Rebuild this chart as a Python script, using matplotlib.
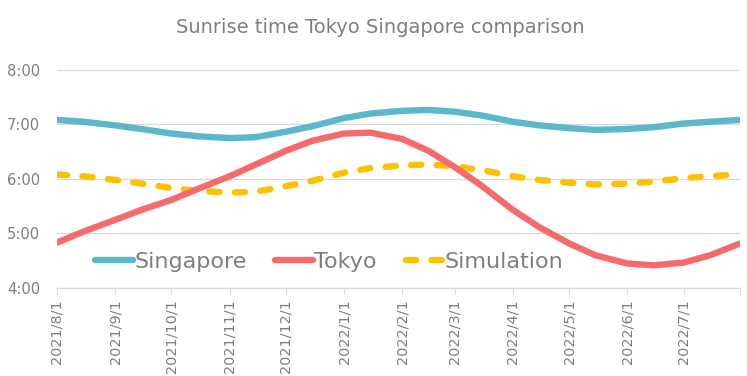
#!/usr/bin/env python3
"""Sunrise time Tokyo / Singapore comparison chart."""
import datetime as dt

import matplotlib
matplotlib.use("Agg")
import matplotlib.pyplot as plt
import matplotlib.dates as mdates
from matplotlib.ticker import FuncFormatter

plt.rcParams["font.family"] = ["DejaVu Sans"]

dates = [
    "2021-08-01", "2021-08-15", "2021-09-01", "2021-09-15", "2021-10-01",
    "2021-10-15", "2021-11-01", "2021-11-15", "2021-12-01", "2021-12-15",
    "2022-01-01", "2022-01-15", "2022-02-01", "2022-02-15", "2022-03-01",
    "2022-03-15", "2022-04-01", "2022-04-15", "2022-05-01", "2022-05-15",
    "2022-06-01", "2022-06-15", "2022-07-01", "2022-07-15", "2022-07-31",
]
singapore = [
    "7:05", "7:03", "6:59", "6:55", "6:50", "6:47", "6:45", "6:46", "6:52",
    "6:58", "7:07", "7:12", "7:15", "7:16", "7:14", "7:10", "7:03", "6:59",
    "6:56", "6:54", "6:55", "6:57", "7:01", "7:03", "7:05",
]
tokyo = [
    "4:50", "5:02", "5:15", "5:26", "5:37", "5:49", "6:03", "6:16", "6:31",
    "6:42", "6:50", "6:51", "6:44", "6:31", "6:13", "5:53", "5:26", "5:07",
    "4:49", "4:36", "4:27", "4:25", "4:28", "4:36", "4:49",
]
simulation = [
    "6:05", "6:03", "5:59", "5:55", "5:50", "5:47", "5:45", "5:46", "5:52",
    "5:58", "6:07", "6:12", "6:15", "6:16", "6:14", "6:10", "6:03", "5:59",
    "5:56", "5:54", "5:55", "5:57", "6:01", "6:03", "6:05",
]
y_ticks = ["4:00", "5:00", "6:00", "7:00", "8:00"]

GRAY = "#7F7F7F"


def hours(values):
    out = []
    for v in values:
        h, m = v.split(":")
        out.append(int(h) + int(m) / 60)
    return out


x = [dt.datetime.strptime(d, "%Y-%m-%d") for d in dates]

fig = plt.figure(figsize=(7.47, 3.76), dpi=100)
ax = fig.add_axes([0.0763, 0.234, 0.9143, 0.580])

ax.plot(x, hours(singapore), color="#5BB8CA", lw=4.6, solid_capstyle="round",
        solid_joinstyle="round", label="Singapore", zorder=3)
ax.plot(x, hours(tokyo), color="#F56B6B", lw=4.6, solid_capstyle="round",
        solid_joinstyle="round", label="Tokyo", zorder=4)
ax.plot(x, hours(simulation), color="#FFC000", lw=4.6, ls=(0, (1.6, 2.4)),
        dash_capstyle="round", label="Simulation", zorder=3)

ax.set_ylim(4, 8)
ax.set_yticks(hours(y_ticks), labels=y_ticks)
ax.set_xlim(dt.datetime(2021, 8, 1), dt.datetime(2022, 7, 31))
ax.xaxis.set_major_locator(mdates.MonthLocator())
ax.xaxis.set_major_formatter(FuncFormatter(
    lambda v, pos: "{0.year}/{0.month}/{0.day}".format(mdates.num2date(v))))
ax.set_xticks([mdates.date2num(dt.datetime(2022, 7, 31))], minor=True)

ax.grid(axis="y", color="#D9D9D9", lw=0.9)
ax.set_axisbelow(True)
for s in ["top", "right", "left"]:
    ax.spines[s].set_visible(False)
ax.spines["bottom"].set_color("#D9D9D9")
ax.spines["bottom"].set_linewidth(0.9)
ax.tick_params(axis="y", length=0, labelsize=10.6, labelcolor=GRAY, pad=12)
ax.tick_params(axis="x", which="both", length=4, color="#D9D9D9",
               labelsize=10.4, labelcolor=GRAY, labelrotation=90, pad=4)

fig.text(0.509, 0.928, "Sunrise time Tokyo Singapore comparison", color=GRAY,
         fontsize=14, ha="center", va="center")

leg = ax.legend(loc="center left", bbox_to_anchor=(0.043, 0.12), ncol=3,
                frameon=False, fontsize=16.0, handlelength=1.7,
                handletextpad=0.05, columnspacing=1.3, borderaxespad=0)
for t in leg.get_texts():
    t.set_color(GRAY)

fig.savefig("out.png", dpi=100, facecolor="white")
